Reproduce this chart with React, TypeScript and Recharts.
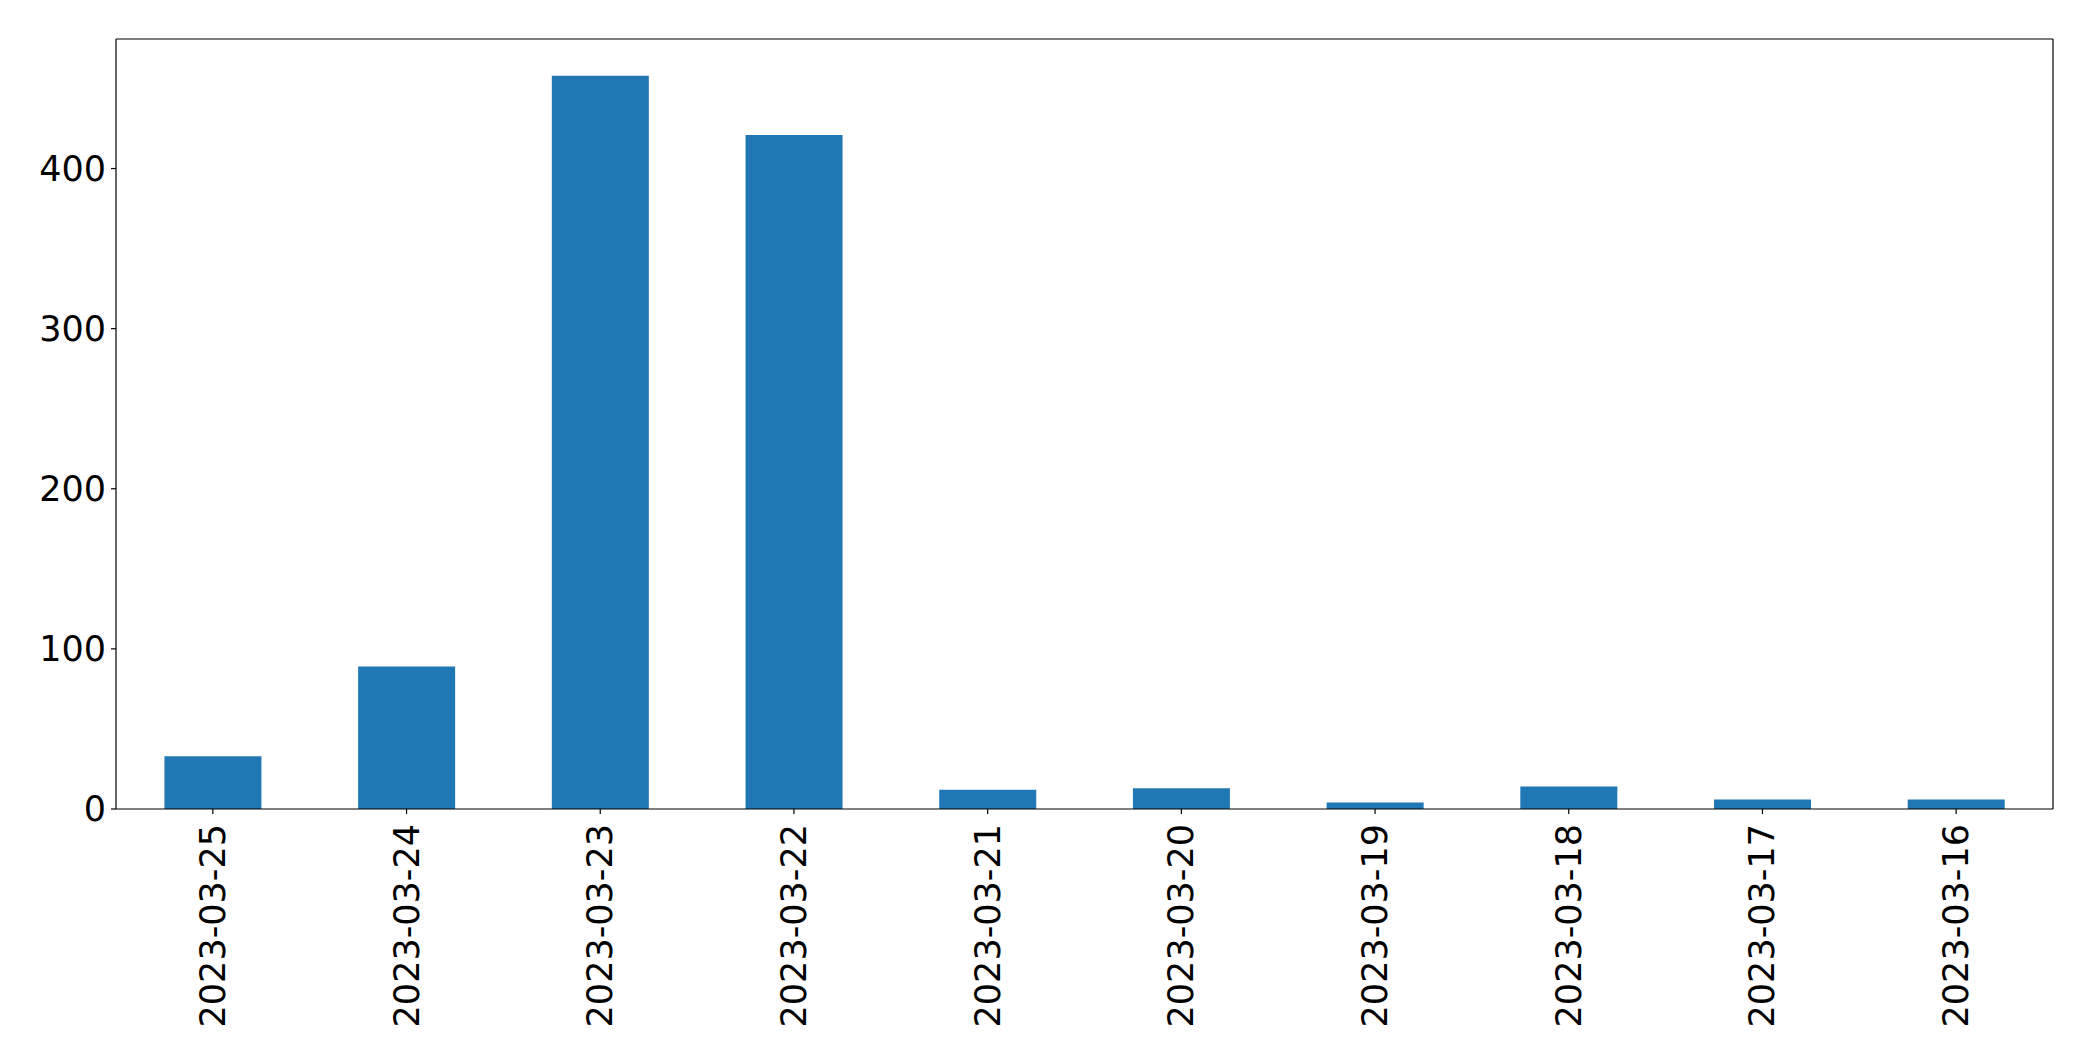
import { Bar, BarChart, XAxis, YAxis } from 'recharts';

const dates = [
  '2023-03-25',
  '2023-03-24',
  '2023-03-23',
  '2023-03-22',
  '2023-03-21',
  '2023-03-20',
  '2023-03-19',
  '2023-03-18',
  '2023-03-17',
  '2023-03-16',
];
const counts = [33, 89, 458, 421, 12, 13, 4, 14, 6, 6];
const yTicks = [0, 100, 200, 300, 400];

const data = dates.map((date, i) => ({ date, count: counts[i] }));

const FONT = 'DejaVu Sans';
const spine = { stroke: '#000', strokeWidth: 1.2 };

const DateTick = (props: any) => {
  const { x, y, payload } = props;
  return (
    <text
      x={x}
      y={y}
      transform={`rotate(-90, ${x}, ${y})`}
      textAnchor="end"
      dominantBaseline="central"
      fontFamily={FONT}
      fontSize={35}
      fill="#000"
    >
      {payload.value}
    </text>
  );
};

export default function App() {
  return (
    <div style={{ position: 'absolute', left: 0, top: 0, background: '#fff' }}>
      <BarChart
        width={2093}
        height={1061}
        data={data}
        margin={{ top: 38, right: 39, left: 0, bottom: 0 }}
        barCategoryGap="25%"
      >
        <XAxis
          dataKey="date"
          height={252}
          interval={0}
          axisLine={spine}
          tickLine={spine}
          tickSize={5}
          tickMargin={10}
          tick={<DateTick />}
        />
        <XAxis
          xAxisId="top"
          dataKey="date"
          orientation="top"
          height={1}
          tick={false}
          tickLine={false}
          axisLine={spine}
        />
        <YAxis
          width={116}
          domain={[0, 480.9]}
          ticks={yTicks}
          interval={0}
          axisLine={spine}
          tickLine={spine}
          tickSize={5}
          tickMargin={5}
          tick={{ fontFamily: FONT, fontSize: 35, fill: '#000' }}
        />
        <YAxis
          yAxisId="right"
          orientation="right"
          width={1}
          domain={[0, 480.9]}
          tick={false}
          tickLine={false}
          axisLine={spine}
        />
        <Bar dataKey="count" fill="#1f77b4" isAnimationActive={false} />
        <Bar
          dataKey="count"
          xAxisId="top"
          yAxisId="right"
          fill="none"
          isAnimationActive={false}
        />
      </BarChart>
    </div>
  );
}
